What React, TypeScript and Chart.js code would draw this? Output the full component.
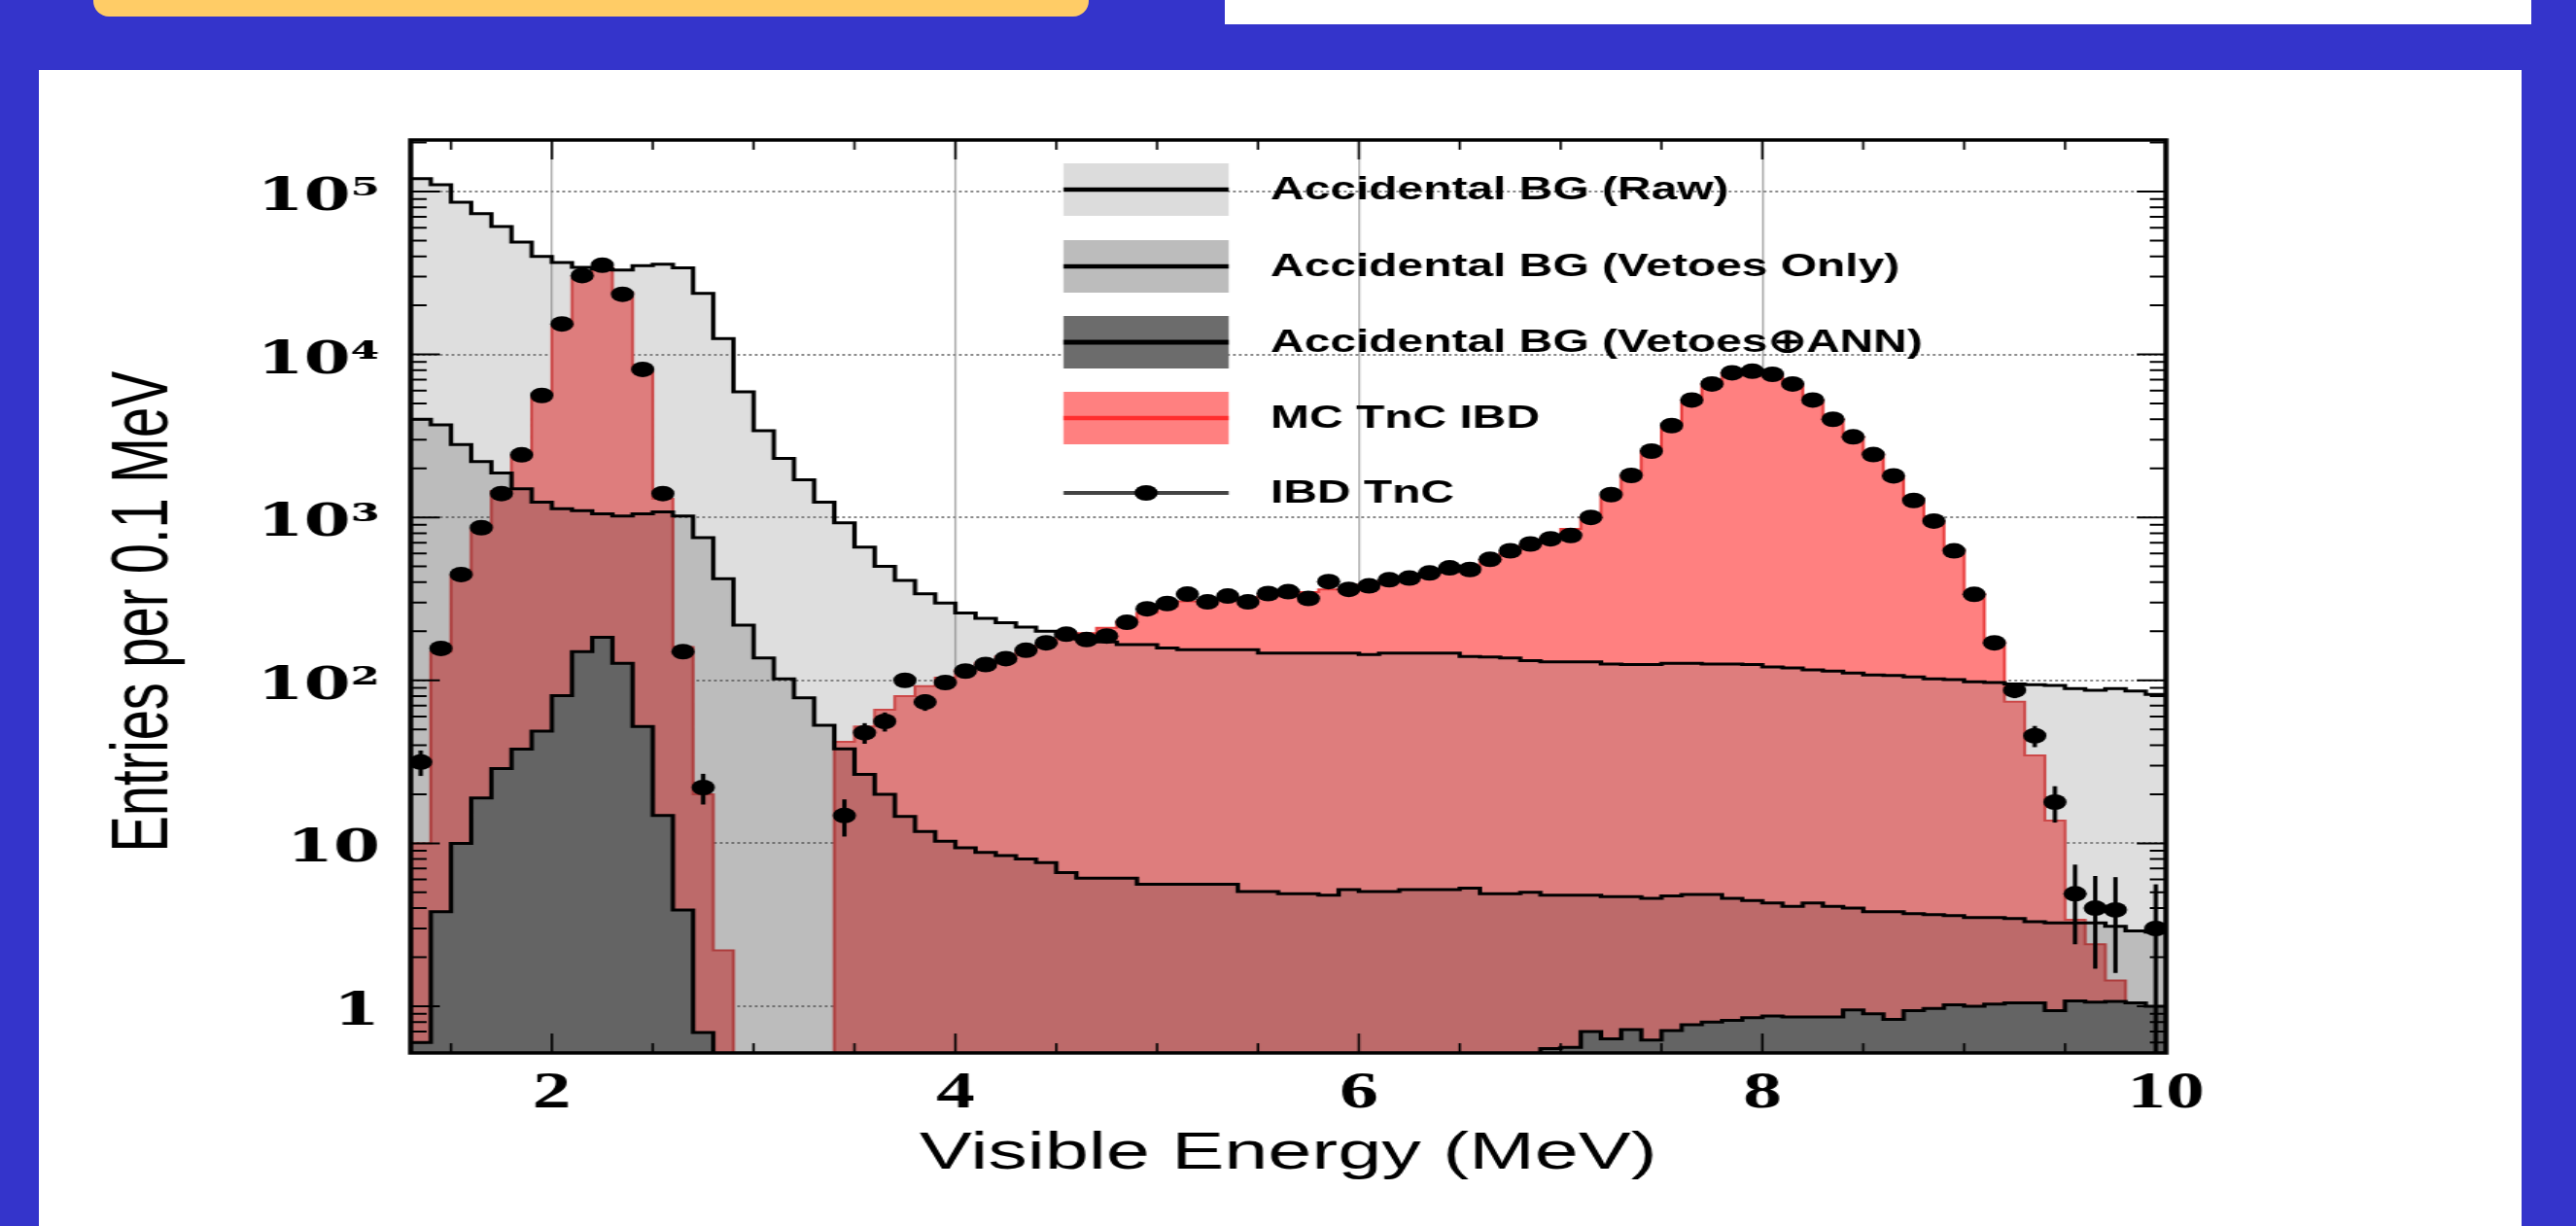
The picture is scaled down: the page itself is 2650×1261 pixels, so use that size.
import React, { useEffect, useRef } from 'react';
import { Chart, registerables } from 'chart.js';

Chart.register(...registerables);

// ---------------- data ----------------
const X_MIN = 1.3;
const X_MAX = 10.0;
const BIN_WIDTH = 0.1;
const Y_MIN = 0.517;
const Y_MAX = 2.07e5;

const xTickValues = [2, 4, 6, 8, 10];
const yTickValues = [1, 10, 100, 1000, 10000, 100000];
const yTickLabels = ['1', '10', '10²', '10³', '10⁴', '10⁵'];

const xTitle = 'Visible Energy (MeV)';
const yTitle = 'Entries per 0.1 MeV';

const legendLabels = [
  'Accidental BG (Raw)',
  'Accidental BG (Vetoes Only)',
  'Accidental BG (Vetoes⊕ANN)',
  'MC TnC IBD',
  'IBD TnC',
];

// 87 bins of 0.1 MeV from 1.3 to 10.0 MeV
const accRaw = [
  120000, 110000, 86000, 73000, 61000, 49000, 40000, 36600, 34200, 33400,
  33000, 35000, 35800, 34000, 23700, 12500, 5900, 3400, 2300, 1700,
  1240, 925, 656, 500, 410, 340, 298, 259, 240, 226,
  212, 200, 187, 178, 172, 166, 166, 158, 154, 154,
  154, 154, 147, 147, 147, 147, 147, 144, 147, 147,
  147, 147, 140, 139, 137, 132, 130, 130, 130, 126,
  125, 125, 127, 127, 126, 126, 125, 121, 119, 116,
  114, 111, 108, 107, 105, 102, 101, 98, 97, 95,
  94, 93, 89, 87, 89, 86, 82,
];

const accVetoes = [
  4000, 3700, 2800, 2200, 1870, 1500, 1240, 1130, 1100, 1050,
  1020, 1050, 1080, 1020, 750, 420, 218, 137, 102, 78,
  53, 38, 26.5, 20, 14.6, 11.8, 10.3, 9.4, 8.8, 8.4,
  8.0, 7.6, 6.6, 6.1, 6.1, 6.1, 5.6, 5.6, 5.6, 5.6,
  5.6, 5.05, 5.05, 4.9, 4.9, 4.8, 5.2, 5.05, 5.05, 5.2,
  5.2, 5.2, 5.3, 4.9, 4.9, 5.0, 4.8, 4.8, 4.8, 4.7,
  4.7, 4.6, 4.75, 4.85, 4.85, 4.6, 4.45, 4.3, 4.1, 4.3,
  4.1, 4.0, 3.8, 3.8, 3.7, 3.65, 3.6, 3.5, 3.5, 3.45,
  3.3, 3.25, 3.25, 3.25, 3.1, 2.9, 2.85,
];

const accAnn = [
  0.6, 3.8, 10, 19, 28.8, 37.9, 48.8, 80.7, 150, 184,
  127, 52, 14.8, 3.9, 0.69, 0, 0, 0, 0, 0,
  0, 0, 0, 0, 0, 0, 0, 0, 0, 0,
  0, 0, 0, 0, 0, 0, 0, 0, 0, 0,
  0, 0, 0, 0, 0, 0, 0, 0, 0, 0,
  0, 0, 0, 0, 0, 0, 0.55, 0.56, 0.7, 0.63,
  0.72, 0.62, 0.71, 0.77, 0.8, 0.82, 0.85, 0.87, 0.86, 0.86,
  0.86, 0.95, 0.9, 0.83, 0.94, 0.97, 1.02, 1.0, 1.03, 1.05,
  1.05, 0.94, 1.08, 1.06, 1.07, 1.05, 1.0,
];

const mcIbd = [
  10, 150, 440, 850, 1450, 2400, 5600, 15000, 30000, 34000,
  24000, 8100, 1300, 160, 20, 2.2, 0, 0, 0, 0,
  0, 42, 52, 66, 80, 92, 104, 116, 128, 140,
  152, 168, 182, 195, 210, 230, 260, 285, 305, 312,
  318, 322, 330, 338, 348, 362, 372, 388, 408, 428,
  452, 478, 505, 545, 605, 675, 750, 850, 1000, 1350,
  1810, 2550, 3660, 5250, 6590, 7720, 7900, 7550, 6590, 5250,
  4000, 3120, 2430, 1800, 1300, 950, 630, 340, 172, 74,
  34.6, 13.8, 3.4, 2.4, 1.44, 0, 0,
];

const ibdData: (number | null)[] = [
  31.5, 157, 446, 865, 1400, 2420, 5600, 15400, 30500, 35300,
  23400, 8100, 1400, 150, 22, null, null, null, null, null,
  null, 14.8, 47.7, 56, 100, 73.6, 97, 114, 125, 136,
  153, 170, 192, 178, 187, 227, 275, 296, 338, 303,
  329, 303, 341, 350, 318, 404, 362, 380, 414, 424,
  456, 490, 479, 553, 624, 687, 739, 775, 1000, 1380,
  1810, 2550, 3660, 5250, 6590, 7720, 7900, 7550, 6590, 5250,
  4000, 3120, 2430, 1800, 1270, 950, 623, 337, 170, 87,
  45.7, 17.9, 4.9, 4.0, 3.9, null, 3.0,
];

// visible error bars (bin index, half-length)
const ibdErrBins = [0, 1, 14, 21, 22, 23, 25, 79, 80, 81, 82, 83, 84, 86];
const ibdErrValues = [5.6, 12.5, 4.7, 3.8, 6.9, 7.5, 8.6, 9.3, 6.8, 4.5, 2.5, 2.3, 2.3, 2.6];

// ---------------- layout ----------------
const PAGE_W = 2650;
const PAGE_H = 1261;
const PANEL_LEFT = 40;
const PANEL_TOP = 72;
const PANEL_W = 2554;
const PANEL_H = PAGE_H - PANEL_TOP;
const CANVAS_W = 1703; // drawn then stretched horizontally to PANEL_W
const SX = PANEL_W / CANVAS_W;
const toLX = (fullX: number) => (fullX - PANEL_LEFT) / SX;
const toLY = (fullY: number) => fullY - PANEL_TOP;

const FLOOR = 1e-3;

function stepPoints(values: number[]) {
  const pts: { x: number; y: number }[] = [];
  values.forEach((v, i) => {
    const x0 = +(X_MIN + i * BIN_WIDTH).toFixed(4);
    const x1 = +(X_MIN + (i + 1) * BIN_WIDTH).toFixed(4);
    const y = v > 0 ? v : FLOOR;
    pts.push({ x: x0, y }, { x: x1, y });
  });
  return pts;
}

const ibdPoints = ibdData
  .map((v, i) => ({ x: +(X_MIN + (i + 0.5) * BIN_WIDTH).toFixed(4), y: v }))
  .filter((p) => p.y != null) as { x: number; y: number }[];

const legendStyles = [
  { fill: '#dcdcdc', line: '#000000', lw: 4.5, marker: false },
  { fill: '#bcbcbc', line: '#000000', lw: 4.5, marker: false },
  { fill: '#6c6c6c', line: '#000000', lw: 5, marker: false },
  { fill: '#ff8080', line: '#ff2e2e', lw: 4.5, marker: false },
  { fill: null, line: '#444444', lw: 4, marker: true },
];

const decorPlugin = {
  id: 'decor',
  afterDatasetsDraw(chart: any) {
    const { ctx, chartArea } = chart;
    const xs = chart.scales.x;
    const ys = chart.scales.y;
    ctx.save();
    ctx.beginPath();
    ctx.rect(chartArea.left, chartArea.top, chartArea.right - chartArea.left, chartArea.bottom - chartArea.top);
    ctx.clip();
    ctx.strokeStyle = '#000';
    ctx.lineWidth = 3;
    ibdErrBins.forEach((b, k) => {
      const v = ibdData[b];
      if (v == null) return;
      const e = ibdErrValues[k];
      const x = xs.getPixelForValue(X_MIN + (b + 0.5) * BIN_WIDTH);
      const lo = v - e > 0 ? v - e : FLOOR;
      ctx.beginPath();
      ctx.moveTo(x, ys.getPixelForValue(lo));
      ctx.lineTo(x, ys.getPixelForValue(v + e));
      ctx.stroke();
    });
    ctx.restore();
  },
  afterDraw(chart: any) {
    const { ctx, chartArea } = chart;
    const { left, right, top, bottom } = chartArea;
    const xs = chart.scales.x;
    const ys = chart.scales.y;
    ctx.save();
    ctx.strokeStyle = '#000';
    // x ticks (inward, top and bottom)
    ctx.lineWidth = 1.6;
    for (let k = 3; k <= 20; k++) {
      const v = k * 0.5;
      if (v <= X_MIN || v > X_MAX) continue;
      const px = xs.getPixelForValue(v);
      const major = k % 4 === 0;
      const len = major ? 20 : 10;
      ctx.beginPath();
      ctx.moveTo(px, bottom);
      ctx.lineTo(px, bottom - len);
      ctx.moveTo(px, top);
      ctx.lineTo(px, top + len);
      ctx.stroke();
    }
    // y ticks (inward, left and right)
    ctx.lineWidth = 2;
    for (let d = -1; d <= 5; d++) {
      for (let m = 1; m <= 9; m++) {
        const v = m * Math.pow(10, d);
        if (v < Y_MIN || v > Y_MAX) continue;
        const py = ys.getPixelForValue(v);
        const len = m === 1 ? 20 : 11;
        ctx.beginPath();
        ctx.moveTo(left, py);
        ctx.lineTo(left + len, py);
        ctx.moveTo(right, py);
        ctx.lineTo(right - len, py);
        ctx.stroke();
      }
    }
    // frame
    ctx.lineWidth = 3.5;
    ctx.strokeRect(left, top, right - left, bottom - top);

    // legend
    const boxL = toLX(1094);
    const boxR = toLX(1264);
    const textX = toLX(1307);
    const rowY = [195, 274, 352, 430, 507].map(toLY);
    const boxH = 54;
    legendLabels.forEach((label, i) => {
      const st = legendStyles[i];
      const cy = rowY[i];
      if (st.fill) {
        ctx.fillStyle = st.fill;
        ctx.fillRect(boxL, cy - boxH / 2, boxR - boxL, boxH);
      }
      ctx.strokeStyle = st.line;
      ctx.lineWidth = st.lw;
      ctx.beginPath();
      ctx.moveTo(boxL, cy);
      ctx.lineTo(boxR, cy);
      ctx.stroke();
      if (st.marker) {
        ctx.fillStyle = '#000';
        ctx.beginPath();
        ctx.arc((boxL + boxR) / 2, cy, 8, 0, Math.PI * 2);
        ctx.fill();
      }
      ctx.save();
      ctx.translate(textX, cy + 1);
      ctx.scale(0.94, 1);
      ctx.font = 'bold 34px "Liberation Sans", Arial, sans-serif';
      ctx.textBaseline = 'middle';
      ctx.textAlign = 'left';
      ctx.fillStyle = '#000';
      ctx.fillText(label, 0, 0);
      ctx.restore();
    });
    ctx.restore();
  },
};

export default function App() {
  const ref = useRef<HTMLCanvasElement | null>(null);

  useEffect(() => {
    const canvas = ref.current;
    if (!canvas) return;
    const histCommon = {
      pointRadius: 0,
      pointHoverRadius: 0,
      fill: 'start',
      borderJoinStyle: 'miter',
      borderCapStyle: 'butt',
      tension: 0,
    };
    const chart = new Chart(canvas, {
      type: 'line',
      data: {
        datasets: [
          {
            label: legendLabels[4],
            data: ibdPoints,
            showLine: false,
            pointRadius: 8,
            pointHoverRadius: 8,
            pointBackgroundColor: '#000',
            pointBorderColor: '#000',
            pointBorderWidth: 0,
            fill: false,
          },
          {
            label: legendLabels[2],
            data: stepPoints(accAnn),
            borderColor: '#000',
            borderWidth: 3,
            backgroundColor: '#646464',
            ...histCommon,
          },
          {
            label: legendLabels[1],
            data: stepPoints(accVetoes),
            borderColor: '#000',
            borderWidth: 3,
            backgroundColor: 'rgba(0,0,0,0.15)',
            ...histCommon,
          },
          {
            label: legendLabels[0],
            data: stepPoints(accRaw),
            borderColor: '#000',
            borderWidth: 3,
            backgroundColor: 'rgba(115,115,115,0.236)',
            ...histCommon,
          },
          {
            label: legendLabels[3],
            data: stepPoints(mcIbd),
            borderColor: '#e83c3c',
            borderWidth: 2,
            backgroundColor: '#ff8080',
            ...histCommon,
          },
        ],
      } as any,
      options: {
        animation: false,
        responsive: false,
        devicePixelRatio: 1,
        events: [],
        layout: { padding: { left: 0, right: 244, top: 144 - PANEL_TOP, bottom: 0 } },
        plugins: { legend: { display: false }, tooltip: { enabled: false } },
        scales: {
          x: {
            type: 'linear',
            min: X_MIN,
            max: X_MAX,
            bounds: 'data',
            z: 1,
            afterBuildTicks: (s: any) => {
              s.ticks = xTickValues.map((v) => ({ value: v }));
            },
            afterFit: (s: any) => {
              s.height = PAGE_H - 1083;
            },
            grid: { color: '#a8a8a8', lineWidth: 1.3, drawTicks: false },
            border: { display: false },
            ticks: {
              autoSkip: false,
              maxRotation: 0,
              padding: 11,
              color: '#000',
              font: { family: '"Liberation Serif", serif', size: 53, weight: 'bold' },
              callback: (v: any) => String(v),
            },
            title: {
              display: true,
              text: xTitle,
              color: '#000',
              font: { family: '"Liberation Sans", Arial, sans-serif', size: 54 },
              padding: { top: 0, bottom: 41 },
            },
          },
          y: {
            type: 'logarithmic',
            min: Y_MIN,
            max: Y_MAX,
            bounds: 'data',
            z: 1,
            afterBuildTicks: (s: any) => {
              s.ticks = yTickValues.map((v) => ({ value: v }));
            },
            afterFit: (s: any) => {
              s.width = 255;
            },
            grid: { color: '#8c8c8c', lineWidth: 2, drawTicks: false },
            border: { display: false, dash: [2, 2] },
            ticks: {
              padding: 21,
              labelOffset: 7,
              color: '#000',
              font: { family: '"DejaVu Serif", serif', size: 46, weight: 'bold' },
              callback: (_v: any, i: number) => yTickLabels[i],
            },
            title: {
              display: true,
              text: yTitle + '  ',
              color: '#000',
              font: { family: '"Liberation Sans", Arial, sans-serif', size: 56 },
              padding: { top: 39, bottom: 0 },
            },
          },
        },
      } as any,
      plugins: [decorPlugin],
    });
    return () => chart.destroy();
  }, []);

  return (
    <div
      style={{
        position: 'fixed',
        left: 0,
        top: 0,
        width: PAGE_W,
        height: PAGE_H,
        background: '#3434cb',
        overflow: 'hidden',
      }}
    >
      <div
        style={{
          position: 'absolute',
          left: 96,
          top: 0,
          width: 1024,
          height: 17,
          background: '#ffcc66',
          borderRadius: '0 0 16px 16px',
        }}
      />
      <div style={{ position: 'absolute', left: 1260, top: 0, width: 1344, height: 25, background: '#ffffff' }} />
      <div
        style={{
          position: 'absolute',
          left: PANEL_LEFT,
          top: PANEL_TOP,
          width: PANEL_W,
          height: PANEL_H,
          background: '#ffffff',
        }}
      >
        <canvas
          ref={ref}
          width={CANVAS_W}
          height={PANEL_H}
          style={{ display: 'block', width: PANEL_W + 'px', height: PANEL_H + 'px' }}
        />
      </div>
    </div>
  );
}
